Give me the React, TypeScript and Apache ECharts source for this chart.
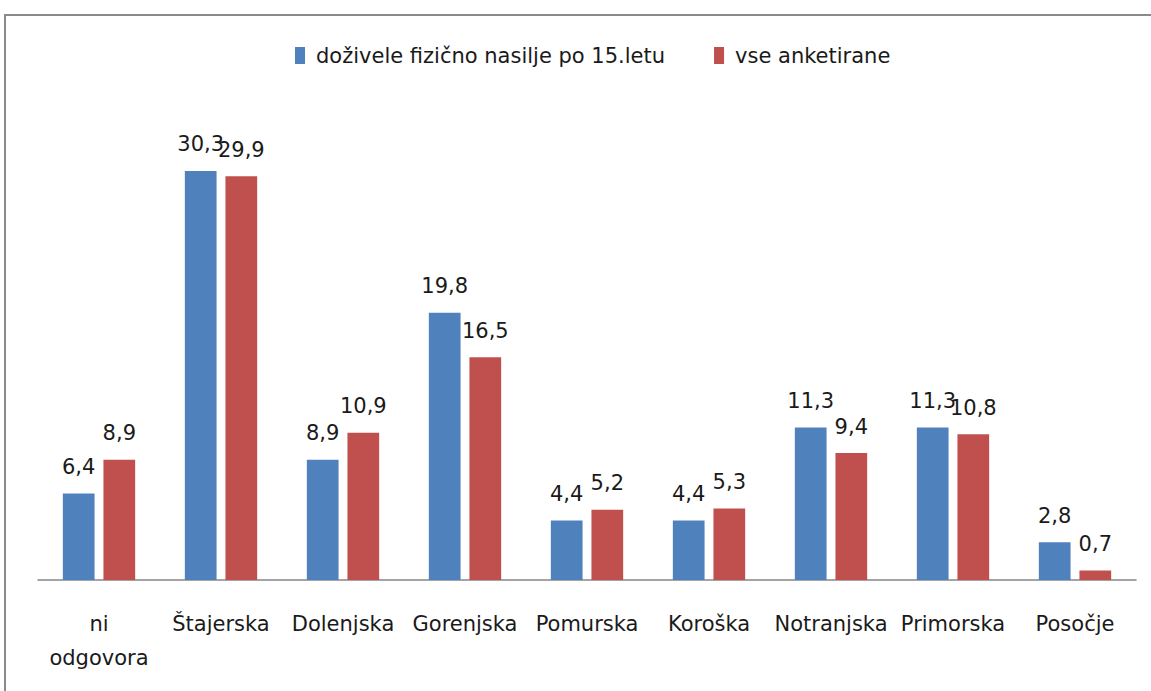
import React, { useEffect, useRef } from "react";
import * as echarts from "echarts";

const categories = ["ni\nodgovora", "Štajerska", "Dolenjska", "Gorenjska", "Pomurska", "Koroška", "Notranjska", "Primorska", "Posočje"];
const seriesNames = ["doživele fizično nasilje po 15.letu", "vse anketirane"];
const physicalViolence = [6.4, 30.3, 8.9, 19.8, 4.4, 4.4, 11.3, 11.3, 2.8];
const allSurveyed = [8.9, 29.9, 10.9, 16.5, 5.2, 5.3, 9.4, 10.8, 0.7];

const FONT = "DejaVu Sans";

export default function App() {
  const ref = useRef<HTMLDivElement>(null);
  useEffect(() => {
    if (!ref.current) return;
    const chart = echarts.init(ref.current, undefined, { renderer: "svg" });
    const label = {
      show: true,
      position: "top" as const,
      distance: 16,
      fontFamily: FONT,
      fontSize: 21,
      color: "#1a1a1a",
      formatter: (p: any) => String(p.value).replace(".", ","),
    };
    chart.setOption({
      animation: false,
      backgroundColor: "#ffffff",
      graphic: [
        {
          type: "rect",
          shape: { x: 5, y: 15, width: 1160, height: 700 },
          style: { fill: "none", stroke: "#8a8a8a", lineWidth: 2 },
          silent: true,
        },
      ],
      legend: {
        top: 40,
        left: 290,
        itemWidth: 10,
        itemHeight: 17,
        itemGap: 49,
        icon: "rect",
        textStyle: { fontFamily: FONT, fontSize: 21, color: "#1a1a1a", padding: [0, 0, 0, 6] },
        data: seriesNames,
      },
      grid: { left: 38, right: 15, top: 107.5, bottom: 111, containLabel: false },
      xAxis: {
        type: "category",
        data: categories,
        axisLine: { lineStyle: { color: "#868686", width: 1.5 } },
        axisTick: { show: false },
        axisLabel: {
          interval: 0,
          margin: 27,
          fontFamily: FONT,
          fontSize: 21,
          lineHeight: 34,
          color: "#1a1a1a",
        },
      },
      yAxis: {
        type: "value",
        min: 0,
        max: 35,
        show: false,
        splitLine: { show: false },
      },
      series: [
        {
          name: seriesNames[0],
          type: "bar",
          data: physicalViolence,
          barWidth: "26%",
          barGap: "28%",
          itemStyle: { color: "#4F81BD" },
          label,
        },
        {
          name: seriesNames[1],
          type: "bar",
          data: allSurveyed,
          barWidth: "26%",
          itemStyle: { color: "#C0504D" },
          label,
        },
      ],
    });
    return () => chart.dispose();
  }, []);
  return (
    <div
      ref={ref}
      style={{ position: "absolute", left: 0, top: 0, width: 1151, height: 691 }}
    />
  );
}
